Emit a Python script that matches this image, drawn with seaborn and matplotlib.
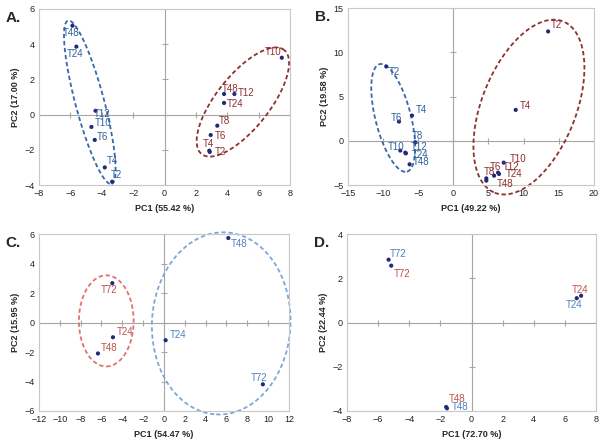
import numpy as np
import pandas as pd
import matplotlib
matplotlib.use('Agg')
import matplotlib.pyplot as plt
import seaborn as sns

# ---- data ----
a_labels = ['T48', 'T24', 'T12', 'T10', 'T6', 'T4', 'T2',
            'T10', 'T48', 'T12', 'T24', 'T8', 'T6', 'T4', 'T2']
a_x = [-5.87, -5.62, -4.40, -4.66, -4.45, -3.81, -3.34,
       7.47, 3.79, 4.45, 3.79, 3.36, 2.94, 2.85, 2.88]
a_y = [5.05, 3.86, 0.22, -0.70, -1.44, -3.00, -3.81,
       3.23, 1.17, 1.17, 0.66, -0.63, -1.16, -2.05, -2.12]
a_group = ['blue'] * 7 + ['red'] * 8

b_labels = ['T2', 'T4', 'T6', 'T8', 'T10', 'T12', 'T24', 'T48',
            'T2', 'T4', 'T10', 'T12', 'T24', 'T6', 'T8', 'T48']
b_x = [-9.54, -5.88, -7.73, -5.41, -7.54, -6.83, -6.75, -6.22,
       13.49, 8.88, 7.17, 6.37, 6.50, 5.80, 4.70, 4.70]
b_y = [8.40, 2.85, 2.17, -0.17, -1.10, -1.34, -1.42, -2.66,
       12.36, 3.49, -2.47, -3.60, -3.75, -3.94, -4.25, -4.50]
b_group = ['blue'] * 8 + ['red'] * 8

c_labels = ['T72', 'T24', 'T48', 'T48', 'T24', 'T72']
c_x = [-4.96, -4.90, -6.34, 6.18, 0.16, 9.50]
c_y = [2.67, -1.00, -2.10, 5.73, -1.20, -4.19]
c_group = ['red'] * 3 + ['blue'] * 3

d_labels = ['T72', 'T72', 'T24', 'T24', 'T48', 'T48']
d_x = [-5.33, -5.16, 7.04, 6.76, -1.63, -1.58]
d_y = [2.84, 2.57, 1.21, 1.10, -3.82, -3.88]
d_group = ['blue', 'red', 'red', 'blue', 'red', 'blue']

# ellipses: major-axis end points (data) and minor/major ratio
a_ellipses = [((-6.15, 5.34), (-3.38, -3.94), 0.17, 'blue'),
              ((2.36, -2.24), (7.62, 3.67), 0.40, 'red')]
b_ellipses = [((-10.49, 8.66), (-6.60, -3.49), 0.32, 'blue'),
              ((15.63, 13.49), (5.89, -5.87), 0.51, 'red')]
c_ellipses = [((-5.54, 3.20), (-5.54, -2.98), 0.60, 'red'),
              ((5.98, 6.11), (5.02, -6.23), 0.76, 'blue')]
d_ellipses = []

# label offsets in pixels (style)
a_offsets = [(-1, -7), (-1, -7), (7, -3), (12, 4), (8, 3), (8, 6), (4, 7),
             (-9, 6), (6, 5), (12, 1), (11, -1), (7, 5), (10, -1), (-1, 7), (11, 0)]
b_offsets = [(8, -6), (9, 6), (-2, 4), (2, 6), (-4, 4), (14, 6), (14, -2), (12, 2),
             (8, 6), (10, 4), (14, 4), (13, 6), (15, 0), (1, 9), (3, 6), (19, -3)]
c_offsets = [(-3, -7), (12, 5), (11, 5), (11, -6), (12, 5), (-4, 6)]
d_offsets = [(10, 6), (11, -8), (-1, 6), (-3, -7), (11, 8), (13, 1)]

sns.set_style('white')
plt.rcParams['font.family'] = ['Liberation Sans', 'DejaVu Sans']

fig = plt.figure(figsize=(6.05, 4.48), dpi=100)

dark_cols = {'blue': '#2f5f9e', 'red': '#8e2f2f'}
light_cols = {'blue': '#4f81bd', 'red': '#c0504d'}
dark_ell = {'blue': '#3868a8', 'red': '#8e3030'}
light_ell = {'blue': '#7da7d9', 'red': '#e07272'}


def draw_ellipse(ax, p1, p2, ratio, color):
    d = ax.transData.transform(np.array([p1, p2]))
    c = d.mean(axis=0)
    v = (d[1] - d[0]) / 2
    n = np.array([-v[1], v[0]]) * ratio
    t = np.linspace(0, 2 * np.pi, 300)
    pts = c + np.outer(np.cos(t), v) + np.outer(np.sin(t), n)
    dd = ax.transData.inverted().transform(pts)
    ax.plot(dd[:, 0], dd[:, 1], ls=(0, (2.4, 1.5)), color=color, lw=1.3,
            zorder=2, clip_on=False)


def panel(rect, letter, labels, xs, ys, groups, offsets, ellipses,
          xticks, yticks, xlab, ylab, txt_cols, ell_cols):
    ax = fig.add_axes(rect)
    ax.set_xlim(xticks[0], xticks[-1])
    ax.set_ylim(yticks[0], yticks[-1])
    ax.set_xticks(xticks)
    ax.set_yticks(yticks)
    ax.tick_params(length=0, labelsize=6.5, pad=3, colors='#222222')
    for s in ax.spines.values():
        s.set_color('#c8c8c8')
        s.set_linewidth(0.8)
    ax.axhline(0, color='#a6a6a6', lw=0.8, zorder=1)
    ax.axvline(0, color='#a6a6a6', lw=0.8, zorder=1)
    ax.plot(xticks, [0] * len(xticks), ls='none', marker='|', ms=5,
            color='#a6a6a6', mew=0.8, zorder=1)
    ax.plot([0] * len(yticks), yticks, ls='none', marker='_', ms=5,
            color='#a6a6a6', mew=0.8, zorder=1)
    for p1, p2, r, g in ellipses:
        draw_ellipse(ax, p1, p2, r, ell_cols[g])
    df = pd.DataFrame({'x': xs, 'y': ys, 'g': groups, 'lab': labels})
    sns.scatterplot(data=df, x='x', y='y', color='#1f2a78', s=9,
                    edgecolor='none', ax=ax, zorder=3, legend=False)
    for (_, r), off in zip(df.iterrows(), offsets):
        ax.annotate(r['lab'], (r['x'], r['y']), xytext=off,
                    textcoords='offset pixels', ha='center', va='center',
                    fontsize=7, color=txt_cols[r['g']], zorder=4)
    ax.set_xlabel(xlab, fontsize=6.5, fontweight='bold', labelpad=4)
    ax.set_ylabel(ylab, fontsize=6.5, fontweight='bold', labelpad=3)
    fig.text(rect[0] - 0.055, rect[1] + rect[3] - 0.005, letter,
             fontsize=11, fontweight='bold', ha='left', va='top')
    return ax


panel([0.0645, 0.587, 0.415, 0.393], 'A.', a_labels, a_x, a_y, a_group,
      a_offsets, a_ellipses, list(range(-8, 9, 2)), list(range(-4, 7, 2)),
      'PC1 (55.42 %)', 'PC2 (17.00 %)', dark_cols, dark_ell)
panel([0.575, 0.587, 0.4066, 0.395], 'B.', b_labels, b_x, b_y, b_group,
      b_offsets, b_ellipses, list(range(-15, 21, 5)), list(range(-5, 16, 5)),
      'PC1 (49.22 %)', 'PC2 (19.58 %)', dark_cols, dark_ell)
panel([0.0645, 0.0826, 0.413, 0.395], 'C.', c_labels, c_x, c_y, c_group,
      c_offsets, c_ellipses, list(range(-12, 13, 2)), list(range(-6, 7, 2)),
      'PC1 (54.47 %)', 'PC2 (15.95 %)', light_cols, light_ell)
panel([0.5736, 0.0826, 0.4116, 0.395], 'D.', d_labels, d_x, d_y, d_group,
      d_offsets, d_ellipses, list(range(-8, 9, 2)), list(range(-4, 5, 2)),
      'PC1 (72.70 %)', 'PC2 (22.44 %)', light_cols, light_ell)

fig.savefig('out.png', dpi=100)
